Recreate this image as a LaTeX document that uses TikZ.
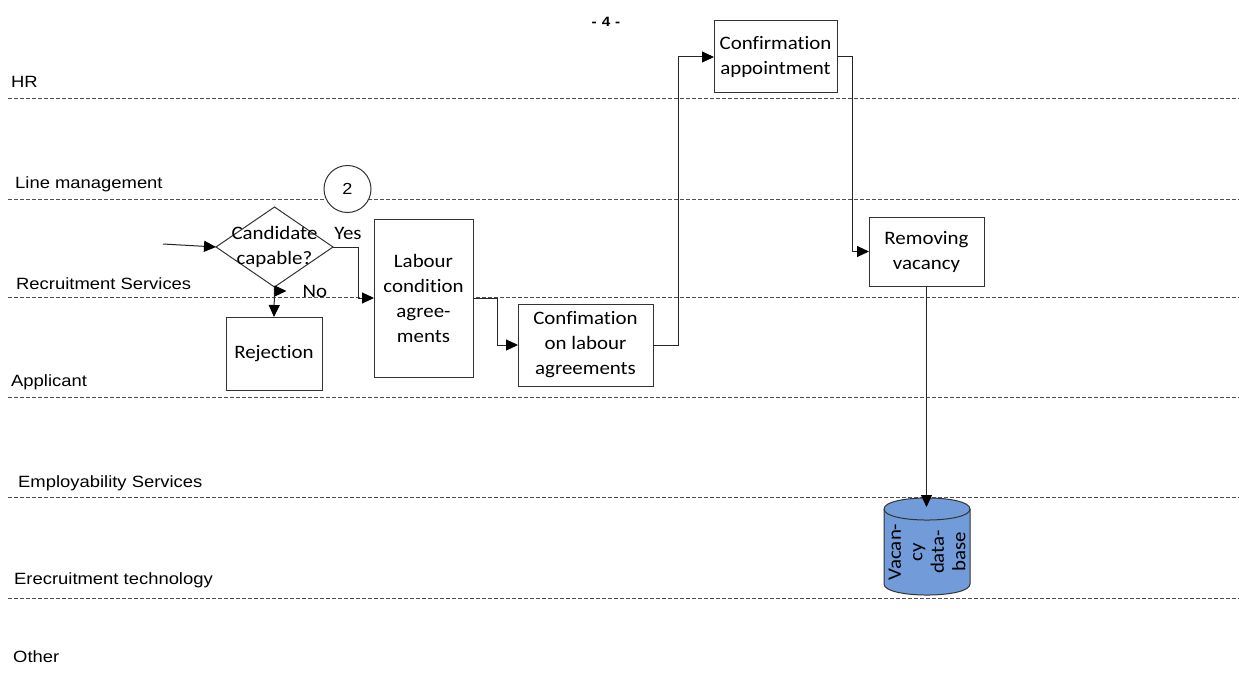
\documentclass[tikz,border=0pt]{standalone}
\usepackage{fontspec}
\setmainfont{Liberation Sans}
\newfontfamily\lanefont[FakeStretch=1.13]{Liberation Sans}
\newfontfamily\boxfont[FakeStretch=1.1,Ligatures=NoCommon]{Carlito}
\usetikzlibrary{arrows.meta,shapes.geometric}
\definecolor{dbblue}{RGB}{113,155,217}
\definecolor{lanegray}{RGB}{80,80,80}
\begin{document}
\begin{tikzpicture}[x=1pt,y=-1pt,
  lane/.style={draw=lanegray, dash pattern=on 4pt off 2pt, line width=1pt},
  lanelabel/.style={anchor=base west, inner sep=0pt, font=\lanefont\fontsize{16.3}{19}\selectfont},
  box/.style={draw=black!80, line width=1pt, fill=white, align=center, inner sep=0pt, outer sep=0pt, font=\boxfont\fontsize{19}{25}\selectfont},
  conn/.style={draw=black!85, line width=1pt, -{Triangle[length=12pt,width=11pt,color=black]}},
  txt/.style={font=\boxfont\fontsize{19}{25}\selectfont, inner sep=0pt, align=center}]
\useasboundingbox (0,0) rectangle (1239,682);
\fill[white] (0,0) rectangle (1239,682);

% swimlane separators
\foreach \yy in {99,199,297,397,497,598}
  \draw[lane] (8,\yy) -- (1239,\yy);

% lane labels
\node[lanelabel] (lHR) at (11,88) {HR};
\node[lanelabel] (lLM) at (15,188) {Line management};
\node[lanelabel] (lRS) at (16,289) {Recruitment Services};
\node[lanelabel] (lAP) at (11,386) {Applicant};
\node[lanelabel] (lES) at (18,487) {Employability Services};
\node[lanelabel] (lET) at (14,584) {Erecruitment technology};
\node[lanelabel] (lOT) at (13,662) {Other};

% page number
\node[font=\lanefont\bfseries\fontsize{13.5}{15}\selectfont, inner sep=0pt] (pg) at (606,22) {-\hspace{5pt}4\hspace{5pt}-};

% nodes
\node[circle, draw=black!80, fill=white, line width=1pt, minimum size=47pt, inner sep=0pt,
      font=\lanefont\fontsize{16}{18}\selectfont] (c2) at (347.5,189) {2};
\node[diamond, draw=black!80, line width=1pt, minimum width=117pt, minimum height=80pt,
      inner sep=0pt, outer sep=0pt] (dia) at (274.5,247) {};
\node[txt] (diat) at (dia) {Candidate\\capable?};
\node[box, minimum width=96pt, minimum height=73pt] (rej) at (274,353.5) {Rejection};
\node[box, minimum width=99pt, minimum height=158pt] (lab) at (423.5,298) {Labour\\condition\\agree-\\ments};
\node[box, minimum width=135pt, minimum height=82pt] (conf) at (585.5,345) {Confimation\\on labour\\agreements};
\node[box, minimum width=123pt, minimum height=72pt] (ca) at (775.5,57) {Confirmation\\appointment};
\node[box, minimum width=115pt, minimum height=69pt] (rv) at (926.5,251.5) {Removing\\vacancy};

% database cylinder
\path[draw=black!80, fill=dbblue, line width=1pt]
  (884,509) -- (884,584) .. controls (884,598.7) and (970,598.7) .. (970,584)
  -- (970,509) .. controls (970,494.3) and (884,494.3) .. (884,509) -- cycle;
\draw[black!80, line width=1pt] (884,509) .. controls (884,523.7) and (970,523.7) .. (970,509);
\node[txt, rotate=90, font=\boxfont\fontsize{19}{21.5}\selectfont] (db) at (927,552) {Vacan-\\cy\\data-\\base};
\coordinate (dbtop) at (927,507);

% labels on connectors
\node[txt] (yes) at (348,233) {Yes};
\node[txt] (no) at (315,291) {No};

% connectors
\coordinate (in) at (163,244);
\draw[conn] (in) -- (dia.west);
\draw[conn] (dia.east) -- ++(25,0) |- (lab.west);
\draw[conn] (dia.south) -- (rej.north);
\draw[conn] ([yshift=-4pt]dia.south) -- ++(12,0);
\draw[conn] (lab.east) -- ++(24,0) |- (conf.west);
\draw[conn] (conf.east) -- ++(25,0) |- (ca.west);
\draw[conn] (ca.east) -- ++(15,0) |- (rv.west);
\draw[conn] (rv.south) -- (rv.south |- dbtop);
\end{tikzpicture}
\end{document}
